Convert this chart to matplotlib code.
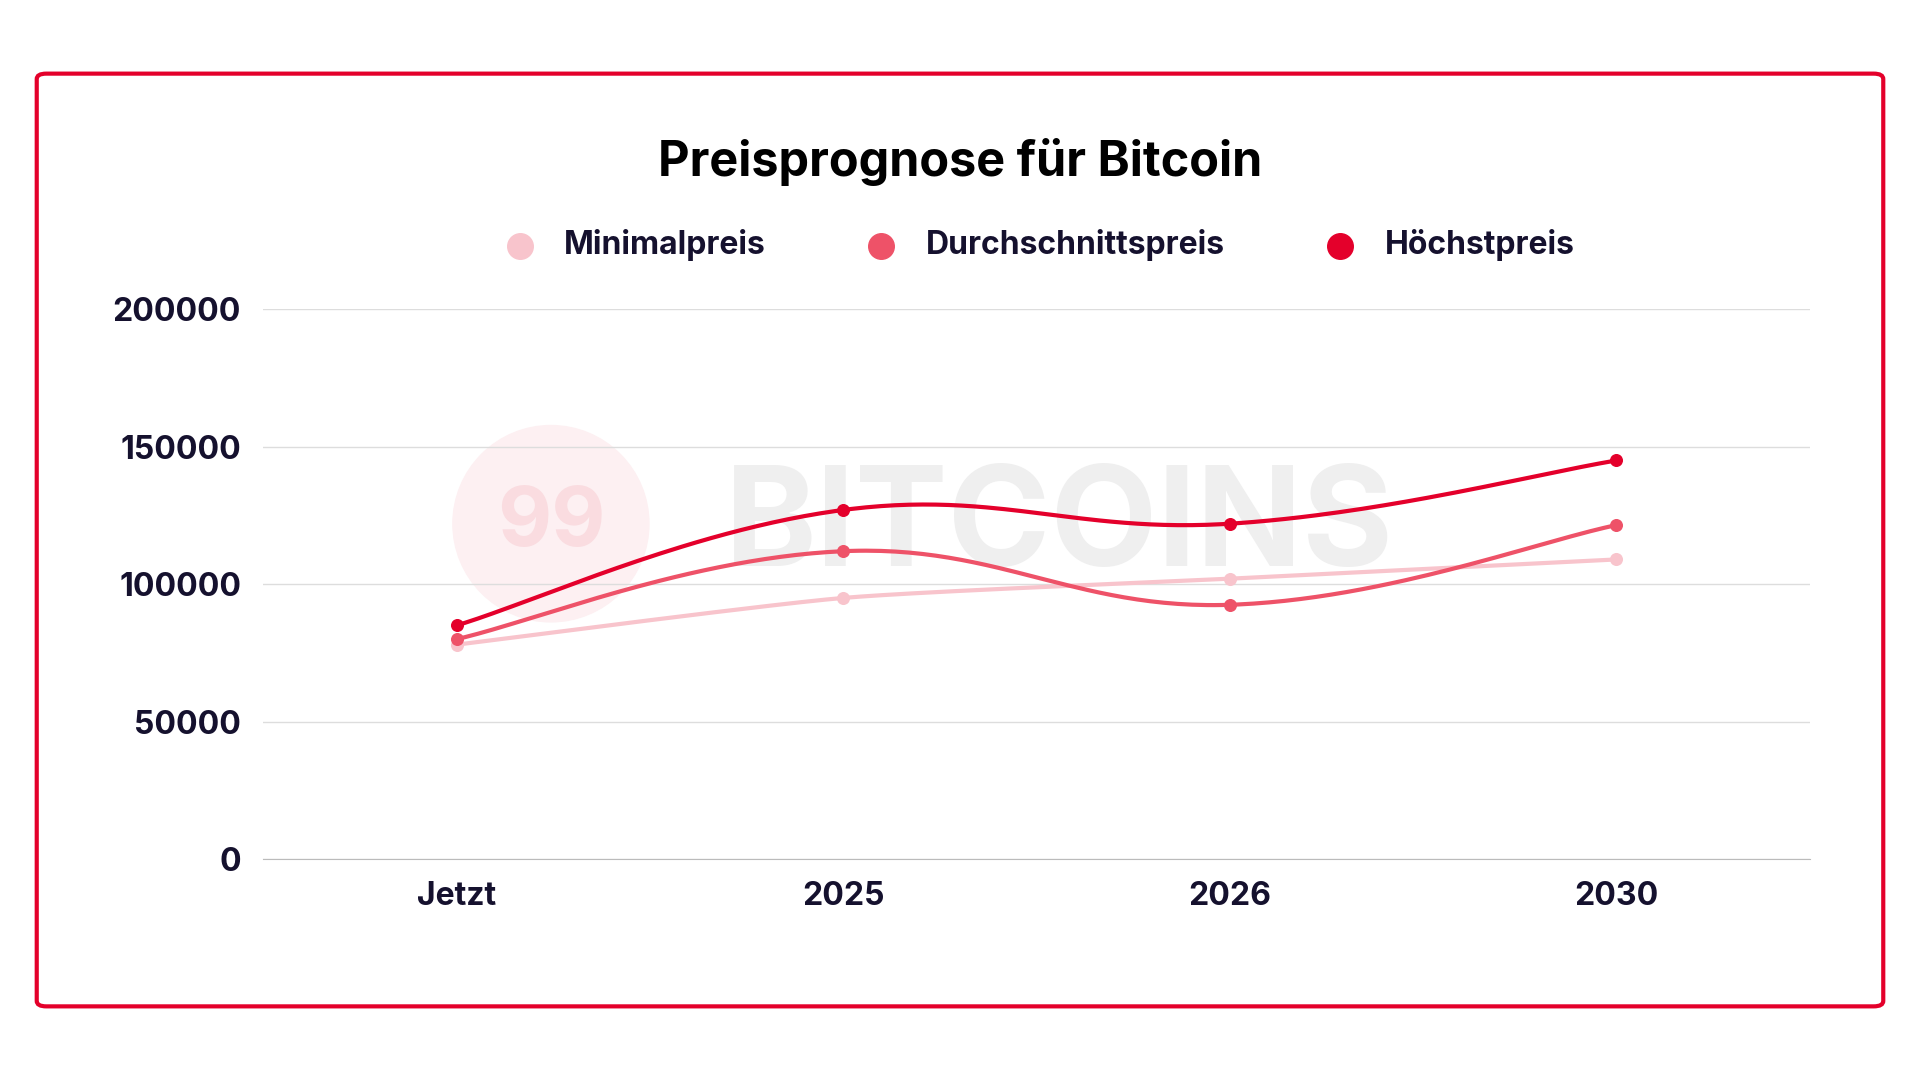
import matplotlib.pyplot as plt
from matplotlib.patches import FancyBboxPatch, Ellipse
import numpy as np

categories = ["Jetzt", "2025", "2026", "2030"]
minimal = [78000, 95000, 102000, 109000]
average = [80000, 112000, 92500, 121500]
highest = [85000, 127000, 122000, 145000]
y_ticks = [0, 50000, 100000, 150000, 200000]

c_min = "#f8c4cc"
c_avg = "#ee5268"
c_max = "#e4002b"
text_c = "#15112e"
font = "Inter"


def smooth(xs, ys, tension=0.4, n=60):
    # Chart.js style bezier spline through the points
    xs = np.asarray(xs, float)
    ys = np.asarray(ys, float)
    ox, oy = [], []
    for i in range(len(xs) - 1):
        p0 = (xs[max(i - 1, 0)], ys[max(i - 1, 0)])
        p1 = (xs[i], ys[i])
        p2 = (xs[i + 1], ys[i + 1])
        p3 = (xs[min(i + 2, len(xs) - 1)], ys[min(i + 2, len(xs) - 1)])
        c1 = (p1[0] + (p2[0] - p0[0]) * tension / 2, p1[1] + (p2[1] - p0[1]) * tension / 2)
        c2 = (p2[0] - (p3[0] - p1[0]) * tension / 2, p2[1] - (p3[1] - p1[1]) * tension / 2)
        t = np.linspace(0, 1, n)
        for a, b, cc, d, out in ((p1[0], c1[0], c2[0], p2[0], ox), (p1[1], c1[1], c2[1], p2[1], oy)):
            out.extend((1 - t) ** 3 * a + 3 * (1 - t) ** 2 * t * b + 3 * (1 - t) * t ** 2 * cc + t ** 3 * d)
    return ox, oy


fig = plt.figure(figsize=(19.2, 10.8), dpi=100)
fig.patches.append(FancyBboxPatch((30 / 1568, 1 - 820 / 880), 1508 / 1568, 760 / 880,
                                  boxstyle="round,pad=0,rounding_size=0.005",
                                  transform=fig.transFigure, fill=False,
                                  edgecolor=c_max, linewidth=3))

ax = fig.add_axes([215 / 1568, 1 - 700 / 880, 1263 / 1568, 448 / 880])
x = np.arange(len(categories))

# watermark
ax.add_patch(Ellipse((0.186, 0.61), 80 / 631, 160 / 448 * 0.5 * 2 * 0.5 * 2, transform=ax.transAxes,
                     color="#fdf0f2", zorder=0))
ax.text(0.186, 0.61, "99", transform=ax.transAxes, fontsize=60, fontweight="bold",
        color="#fadce0", ha="center", va="center", family=font, zorder=0)
ax.text(0.515, 0.6, "BITCOINS", transform=ax.transAxes, fontsize=100, fontweight="bold",
        color="#efefef", ha="center", va="center", family=font, zorder=0)

for vals, col, ten, lab in ((minimal, c_min, 0.2, "Minimalpreis"),
                            (average, c_avg, 0.4, "Durchschnittspreis"),
                            (highest, c_max, 0.4, "Höchstpreis")):
    sx, sy = smooth(x, vals, ten)
    ax.plot(sx, sy, color=col, linewidth=3, zorder=3)
    ax.scatter(x, vals, color=col, s=70, zorder=4, label=lab)

ax.set_xlim(-0.5, 3.5)
ax.set_ylim(0, 200000)
ax.set_yticks(y_ticks)
ax.set_yticklabels([str(v) for v in y_ticks])
ax.set_xticks(x)
ax.set_xticklabels(categories)
ax.grid(axis="y", color="#dddddd", linewidth=1)
ax.set_axisbelow(True)
for s in ["top", "right", "left"]:
    ax.spines[s].set_visible(False)
ax.spines["bottom"].set_color("#bbbbbb")
ax.tick_params(length=0, labelsize=23, labelcolor=text_c, pad=16)
for t in ax.get_xticklabels() + ax.get_yticklabels():
    t.set_fontweight("bold")
    t.set_family(font)

fig.text(0.5, 1 - 132 / 880, "Preisprognose für Bitcoin", ha="center", va="center",
         fontsize=35, fontweight="bold", family=font, color="black")
leg = fig.legend(loc="center", bbox_to_anchor=(0.537, 1 - 200 / 880), ncol=3, frameon=False,
                 markerscale=2.2, handletextpad=0.4, columnspacing=2.6,
                 prop={"family": font, "weight": "bold", "size": 23})
for t in leg.get_texts():
    t.set_color(text_c)

fig.savefig("out.png", dpi=100, facecolor="white")
